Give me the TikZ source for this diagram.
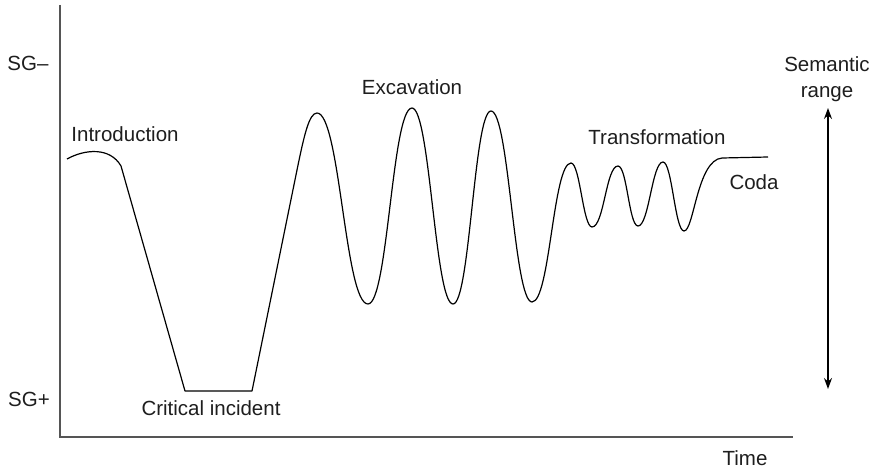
\documentclass[tikz,border=0pt]{standalone}
\usepackage{fontspec}
\setmainfont{Liberation Sans}
\usetikzlibrary{arrows.meta}
\definecolor{axisgray}{HTML}{555555}
\definecolor{inkgray}{HTML}{1E1E1E}
\tikzset{
  axisline/.style={draw=axisgray, line width=1.6pt},
  curveline/.style={draw=black, line width=1.2pt, line join=round},
  rangearrow/.style={draw=black, line width=1.2pt, {Stealth[length=11pt,width=8pt]}-{Stealth[length=11pt,width=8pt]}},
  lbl/.style={inner sep=0pt, text=inkgray, font=\fontsize{20.5}{24}\selectfont},
}
\begin{document}
\begin{tikzpicture}[x=1pt,y=-1pt]
\useasboundingbox (0,0) rectangle (875,468);

% axes
\coordinate (ytop) at (60,5);
\coordinate (origin) at (60,437);
\coordinate (xend) at (793,437);
\draw[axisline] (ytop) -- (origin) -- (xend);

% axis labels
\node[lbl] (sgminus) at (28,63) {SG–};
\node[lbl] (sgplus) at (29,399) {SG+};
\node[lbl, anchor=base] (time) at (745,465) {Time};

% semantic range arrow
\node[lbl, align=center, font=\fontsize{20.5}{26}\selectfont] (range) at (827,79) {Semantic\\range};
\coordinate (rtop) at (828,108);
\coordinate (rbot) at (828,389);
\draw[rangearrow] (rtop) -- (rbot);

% phase labels
\node[lbl] (intro) at (125,134) {Introduction};
\node[lbl] (crit) at (211,408) {Critical incident};
\node[lbl] (exc) at (412,87) {Excavation};
\node[lbl] (trans) at (657,137) {Transformation};
\node[lbl] (coda) at (754,182) {Coda};

% the trajectory
\draw[curveline]
  (67,159) .. controls (85,149) and (110,147) .. (121,166)
  -- (185,391) -- (252,391)
  -- (297,170) .. controls (304,136) and (309,113) .. (317,113)
  .. controls (340,113) and (345,304) .. (368,304)
  .. controls (388,304) and (392,108) .. (412,108)
  .. controls (430,108) and (435,304) .. (453,304)
  .. controls (470,304) and (474,111) .. (491,111)
  .. controls (509,111) and (514,302) .. (532,302)
  .. controls (550,302) and (553,163) .. (571,163)
  .. controls (580,163) and (583,227) .. (592,227)
  .. controls (604,227) and (606,166) .. (618,166)
  .. controls (627,166) and (629,226) .. (638,226)
  .. controls (649,226) and (652,162) .. (663,162)
  .. controls (672,162) and (675,231) .. (684,231)
  .. controls (694,231) and (697,160) .. (722,158)
  -- (768,157);
\end{tikzpicture}
\end{document}
